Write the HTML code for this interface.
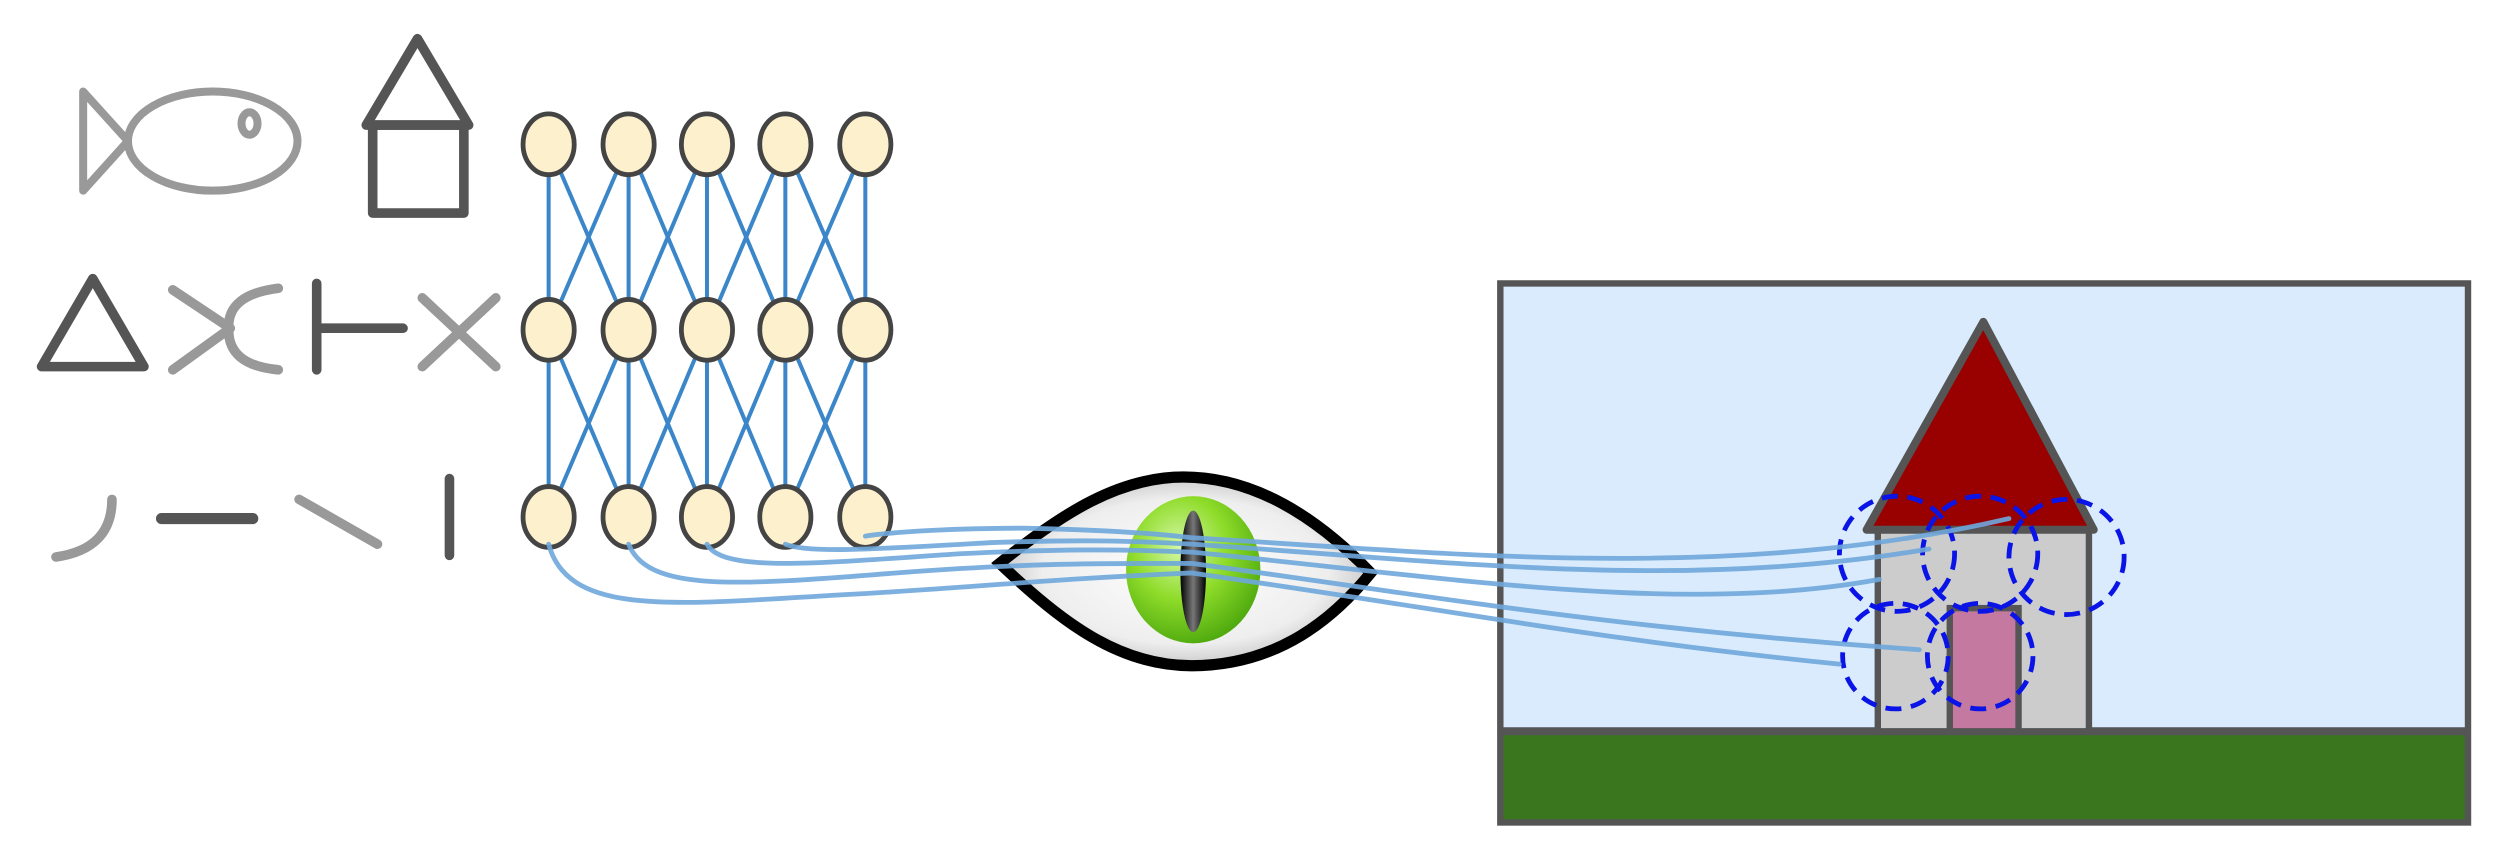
<!DOCTYPE html>
<html><head><meta charset="utf-8"><style>html,body{margin:0;padding:0;background:#fff}svg{display:block}</style></head>
<body>
<svg width="2508" height="858" viewBox="0 0 1568 536" xmlns="http://www.w3.org/2000/svg">
<defs>
<radialGradient id="sclera" cx="0.5" cy="0.5" r="0.55"><stop offset="0" stop-color="#ffffff"/><stop offset="0.7" stop-color="#eeeeee"/><stop offset="1" stop-color="#bdbdbd"/></radialGradient>
<radialGradient id="iris" cx="0.4" cy="0.35" r="0.7"><stop offset="0" stop-color="#d6f7a8"/><stop offset="0.5" stop-color="#8fdc2a"/><stop offset="1" stop-color="#4aa60c"/></radialGradient>
<linearGradient id="slit" x1="0" x2="1"><stop offset="0" stop-color="#000"/><stop offset="0.5" stop-color="#777"/><stop offset="1" stop-color="#000"/></linearGradient>
</defs>
<g fill="none" stroke-linecap="round" stroke-linejoin="round">
 <g stroke="#999" stroke-width="5">
  <path d="M52 57 L80 88 L52 119 Z"/>
  <ellipse cx="133" cy="88" rx="53" ry="31"/>
  <ellipse cx="156" cy="77" rx="5" ry="7"/>
 </g>
 <g stroke="#555" stroke-width="6">
  <path d="M261 24 L229 78 L293 78 Z"/>
  <rect x="233" y="78" width="57" height="55"/>
 </g>
 <path d="M58 174 L26 229 L90 229 Z" stroke="#555" stroke-width="6"/>
 <g stroke="#999" stroke-width="6">
  <path d="M108 181 L144 205 L108 231"/>
  <path d="M174 180 Q142 184 143 205 Q142 228 174 231"/>
 </g>
 <g stroke="#555" stroke-width="6">
  <path d="M198 177 L198 231 M198 205 L252 205"/>
 </g>
 <path d="M264 186 L310 229 M310 186 L264 229" stroke="#999" stroke-width="6"/>
 <path d="M70 312 Q70 343 35 348" stroke="#999" stroke-width="6"/>
 <path d="M101 324 L158 324" stroke="#555" stroke-width="7"/>
 <path d="M187 312 L236 340" stroke="#999" stroke-width="6"/>
 <path d="M281 299 L281 347" stroke="#555" stroke-width="6"/>
</g>
<g id="edges" stroke="#3a86c8" stroke-width="2.5"></g>
<g id="nodes"></g>
<g>
 <rect x="938" y="177" width="605" height="280" fill="#d9ebfc"/>
 <rect x="938" y="457" width="605" height="57" fill="#3a761e"/>
 <path d="M938 457 L1543 457" stroke="#555" stroke-width="5"/>
 <rect x="938" y="177" width="605" height="337" fill="none" stroke="#555" stroke-width="4"/>
 <rect x="1174" y="330" width="132" height="127" fill="#cccccc" stroke="#555" stroke-width="4"/>
 <path d="M1240 201 L1167 331 L1309 331 Z" fill="#990000" stroke="#555" stroke-width="5" stroke-linejoin="round"/>
 <rect x="1219" y="380" width="43" height="77" fill="#c379a0" stroke="#555" stroke-width="4"/>
 <g fill="none" stroke="#0a14e6" stroke-width="3" stroke-dasharray="10 6">
  <circle cx="1186" cy="346" r="36"/>
  <circle cx="1238" cy="346" r="36"/>
  <circle cx="1292" cy="348" r="36"/>
  <circle cx="1185" cy="410" r="33"/>
  <circle cx="1238" cy="410" r="33"/>
 </g>
</g>
<g>
 <path d="M625 352 C665 320 700 298 740 298 C790 298 830 330 857 358 C835 385 800 416 745 416 C700 416 665 390 625 352 Z" fill="url(#sclera)" stroke="#000" stroke-width="7"/>
 <ellipse cx="746" cy="356" rx="42" ry="46" fill="url(#iris)"/>
 <ellipse cx="746" cy="357" rx="8" ry="38" fill="url(#slit)"/>
</g>
<g fill="none" stroke="#6fa8dc" stroke-width="3" stroke-linecap="round" opacity="0.9">
 <path d="M343 340 C355 385 420 378 520 372 C600 368 650 362 745 358 C900 380 1000 400 1150 415"/>
 <path d="M393 340 C405 370 460 366 560 358 C640 352 680 352 745 352 C880 370 1000 392 1200 406"/>
 <path d="M442 340 C452 358 510 352 600 346 C660 343 700 343 745 345 C900 360 1050 385 1175 362"/>
 <path d="M491 340 C505 346 550 343 620 339 C680 337 710 338 745 340 C900 350 1050 370 1206 343"/>
 <path d="M541 335 C560 332 600 330 640 330 C690 331 720 333 745 336 C900 345 1080 365 1256 324"/>
</g>
<script>
const cols = [343, 393, 442, 491, 541];
const rows = [90, 206, 323];
const ns = 'http://www.w3.org/2000/svg';
const eg = document.getElementById('edges');


for (let r = 0; r < rows.length - 1; r++) {
  for (let i = 0; i < cols.length; i++) {
    for (let d = -1; d <= 1; d++) {
      const j = i + d;
      if (j < 0 || j >= cols.length) continue;
      const l = document.createElementNS(ns, 'line');
      l.setAttribute('x1', cols[i]); l.setAttribute('y1', rows[r]);
      l.setAttribute('x2', cols[j]); l.setAttribute('y2', rows[r + 1]);
      
      
      eg.appendChild(l);
    }
  }
}
const ng = document.getElementById('nodes');


for (const y of rows) {
  for (const x of cols) {
    const e = document.createElementNS(ns, 'ellipse');
    e.setAttribute('cx', x); e.setAttribute('cy', y);
    e.setAttribute('rx', 16); e.setAttribute('ry', 19);
    e.setAttribute('fill', '#fdf0cc'); e.setAttribute('stroke', '#444'); e.setAttribute('stroke-width', 3);
    
    
    ng.appendChild(e);
  }
}
</script>
</svg>
</body></html>
